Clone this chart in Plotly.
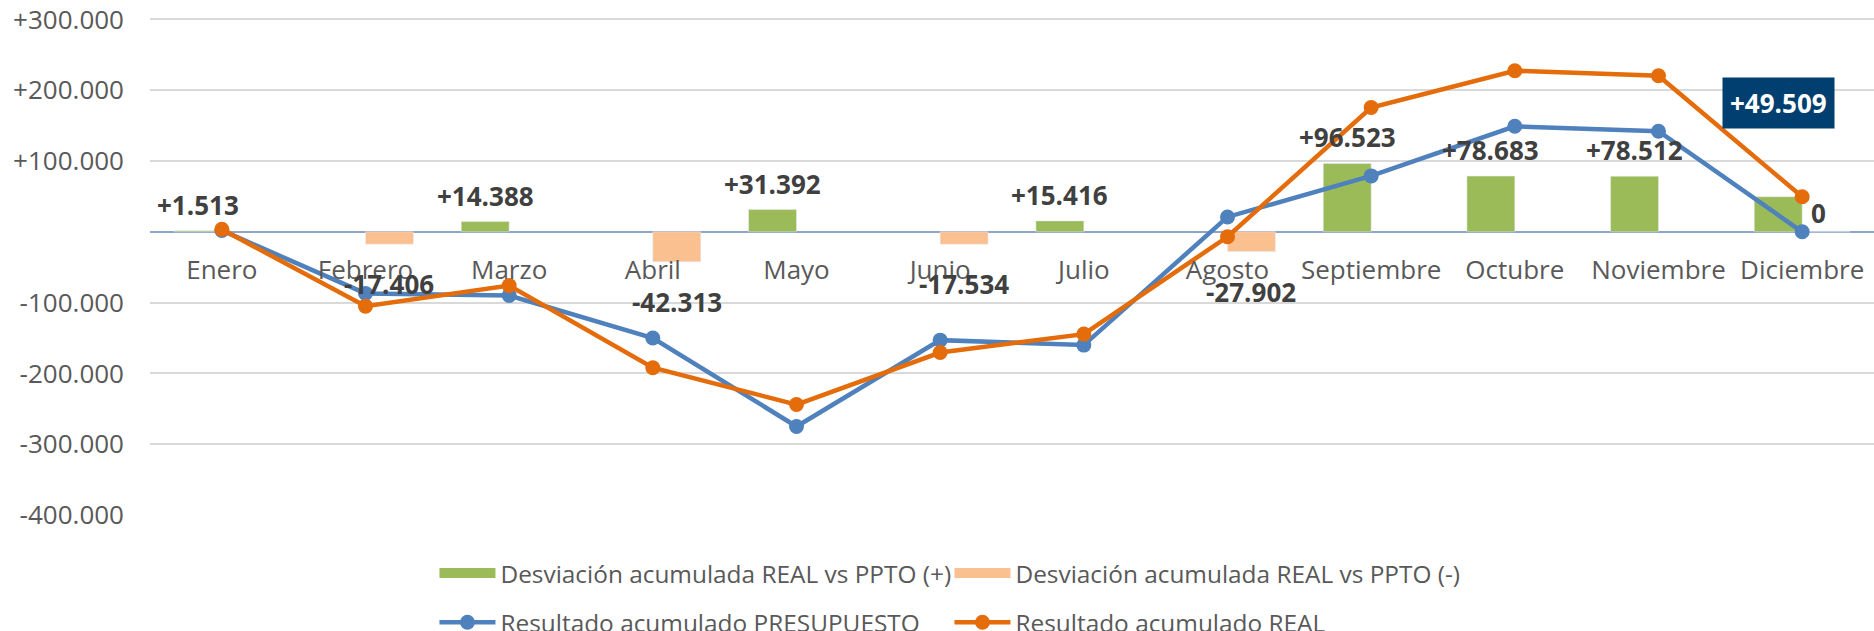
import plotly.graph_objects as go

months = ["Enero", "Febrero", "Marzo", "Abril", "Mayo", "Junio", "Julio",
          "Agosto", "Septiembre", "Octubre", "Noviembre", "Diciembre"]
desv_pos = [1513, None, 14388, None, 31392, None, 15416, None, 96523, 78683, 78512, 49509]
desv_neg = [None, -17406, None, -42313, None, -17534, None, -27902, None, None, None, 0]
ppto = [2000, -87000, -90000, -150000, -275000, -153000, -160000, 21000, 79000, 149000, 142000, 0]
real = [3500, -105000, -76000, -192000, -244000, -170500, -144500, -7000, 175500, 227500, 220500, 49500]
ytick_vals = [-400000, -300000, -200000, -100000, 0, 100000, 200000, 300000]
ytick_text = ["-400.000", "-300.000", "-200.000", "-100.000", "", "+100.000", "+200.000", "+300.000"]

names = ["Desviación acumulada REAL vs PPTO (+)", "Desviación acumulada REAL vs PPTO (-)",
         "Resultado acumulado PRESUPUESTO", "Resultado acumulado REAL"]

GREEN = "#9BBB59"
LORANGE = "#FAC090"
BLUE = "#4F81BD"
ORANGE = "#E46C0A"
FONT = "Open Sans"

Y_MIN, Y_MAX = -400000, 302000  # small headroom so the +300.000 gridline is drawn
W, H = 1874, 631
ML, MR, MT, MB = 150, 0, 17.6, 116
BARGAP = 0.333
cat_w = (W - ML - MR) / len(months)
slot = cat_w * (1 - BARGAP) / 4  # half bar width -> offset of each group slot


def fmt(v):
    if v == 0:
        return "0"
    s = "{:,}".format(abs(v)).replace(",", ".")
    return ("+" if v > 0 else "-") + s


fig = go.Figure()
fig.add_trace(go.Bar(x=months, y=desv_pos, marker_color=GREEN, name=names[0], showlegend=False))
fig.add_trace(go.Bar(x=months, y=desv_neg, marker_color=LORANGE, name=names[1], showlegend=False))

# legend entries for bars (wide rectangles)
fig.add_trace(go.Scatter(x=[None], y=[None], mode="lines", line=dict(color=GREEN, width=21),
                         name=names[0], legend="legend"))
fig.add_trace(go.Scatter(x=[None], y=[None], mode="lines", line=dict(color=LORANGE, width=21),
                         name=names[1], legend="legend"))

fig.add_trace(go.Scatter(x=months, y=ppto, mode="lines+markers", name=names[2],
                         line=dict(color=BLUE, width=4.5), marker=dict(size=15, color=BLUE),
                         legend="legend2"))
fig.add_trace(go.Scatter(x=months, y=real, mode="lines+markers", name=names[3],
                         line=dict(color=ORANGE, width=4.5), marker=dict(size=15, color=ORANGE),
                         legend="legend2"))

annotations = []
last = len(months) - 1
for i, (m, v) in enumerate(zip(months, desv_pos)):
    if v is None:
        continue
    if i == last:
        annotations.append(dict(x=m, y=v, xref="x", yref="y", text="<b>" + fmt(v) + "</b>",
                                showarrow=False, xshift=-slot, yshift=94,
                                font=dict(family=FONT, size=26, color="white"),
                                bgcolor="#003F6F", borderpad=7))
    else:
        annotations.append(dict(x=m, y=v, xref="x", yref="y", text="<b>" + fmt(v) + "</b>",
                                showarrow=False, xshift=-slot, yshift=26,
                                font=dict(family=FONT, size=26, color="#404040")))
for i, (m, v) in enumerate(zip(months, desv_neg)):
    if v is None:
        continue
    annotations.append(dict(x=m, y=v, xref="x", yref="y", text="<b>" + fmt(v) + "</b>",
                            showarrow=False, xshift=(slot if v < 0 else slot - 8),
                            yshift=(-40 if v < 0 else 19),
                            font=dict(family=FONT, size=26, color="#404040")))

fig.update_layout(
    width=W, height=H,
    margin=dict(l=ML, r=MR, t=MT, b=MB, autoexpand=False),
    paper_bgcolor="white", plot_bgcolor="white",
    barmode="group", bargap=BARGAP, bargroupgap=0,
    font=dict(family=FONT, size=26, color="#595959"),
    annotations=annotations,
    xaxis=dict(type="category", range=[-0.5, len(months) - 0.5], anchor="free",
               position=(0 - Y_MIN) / (Y_MAX - Y_MIN),
               showgrid=False, showline=False, ticks="", ticklabelstandoff=20, automargin=False,
               tickfont=dict(family=FONT, size=26, color="#595959")),
    yaxis=dict(range=[Y_MIN, Y_MAX], tickvals=ytick_vals, ticktext=ytick_text,
               showgrid=True, gridcolor="#D9D9D9", gridwidth=1.5,
               zeroline=True, zerolinecolor="#8EA4C8", zerolinewidth=2,
               ticks="", ticklabelstandoff=25, automargin=False, ticklabeloverflow="allow",
               tickfont=dict(family=FONT, size=26, color="#595959")),
    legend=dict(orientation="h", x=0.165, xanchor="left", y=-0.117, yanchor="middle",
                font=dict(family=FONT, size=24.4, color="#595959"), itemwidth=56,
                entrywidth=444, bgcolor="rgba(0,0,0,0)"),
    legend2=dict(orientation="h", x=0.165, xanchor="left", y=-0.216, yanchor="middle",
                 font=dict(family=FONT, size=24.4, color="#595959"), itemwidth=56,
                 entrywidth=444, bgcolor="rgba(0,0,0,0)"),
)

# remove the browser's default 8px body margin so the figure fills the window exactly
fig.write_html("out.html", config={"displayModeBar": False},
               post_script="document.body.style.margin='0px';")
